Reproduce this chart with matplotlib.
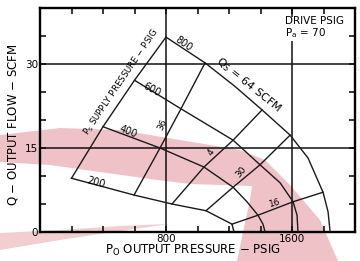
import numpy as np
import matplotlib as mpl
mpl.use('Agg')
from matplotlib import pyplot as plt

# supply pressure curves, (Po psig, Q scfm)
ps_levels = [800, 600, 400, 200]
ps_po = {
    800: [800, 1048, 1238, 1410, 1588, 1702, 1797, 1829, 1842],
    600: [600, 895, 1226, 1397, 1524, 1607, 1632, 1638],
    400: [400, 762, 1041, 1226, 1314, 1384, 1416, 1429],
    200: [200, 597, 838, 1054, 1219, 1232],
}
ps_q = {
    800: [34.8, 30.2, 26.0, 21.8, 17.3, 13.2, 7.1, 3.6, 0],
    600: [27.1, 22.0, 16.4, 12.0, 8.8, 5.4, 3.0, 0],
    400: [18.8, 15.0, 11.6, 8.0, 5.4, 3.0, 1.4, 0],
    200: [9.6, 6.6, 5.0, 3.8, 1.4, 0],
}
ps_label_po = [914, 711, 559, 356]
ps_label_q = [33.6, 25.4, 18.0, 8.8]
ps_label_rot = [-35, -28, -22, -15]

# cross lines (from Ps=800 down to Ps=200)
cross_po = [
    [800, 600, 400, 200],
    [1048, 895, 762, 597],
    [1410, 1226, 1041, 838],
    [1588, 1397, 1226, 1054],
    [1797, 1607, 1384, 1219],
]
cross_q = [
    [34.8, 27.1, 18.8, 9.6],
    [30.2, 22.0, 15.0, 6.6],
    [21.8, 16.4, 11.6, 5.0],
    [17.3, 12.0, 8.0, 3.8],
    [7.1, 5.4, 3.0, 1.4],
]
cross_labels = ["36", "4", "30", "16"]
cross_label_po = [775, 1086, 1276, 1492]
cross_label_q = [19.1, 14.3, 10.7, 5.2]
cross_label_rot = [65, 55, 50, 15]

x_ticks = list(range(0, 2001, 200))
x_ticklabels = {800: "800", 1600: "1600"}
y_ticks = list(range(0, 41, 5))
y_ticklabels = {0: "0", 15: "15", 30: "30"}

# pink watermark swoosh (figure pixels)
wm_band_x = [0, 60, 120, 180, 240, 265, 290, 320, 338, 237, 243, 250, 252, 190, 150, 100, 50, 0]
wm_band_y = [135, 128, 130, 140, 150, 160, 185, 220, 261, 261, 232, 200, 186, 184, 179, 172, 165, 162]
wm_tail_x = [0, 60, 120, 170, 120, 60, 0]
wm_tail_y = [233, 230, 226, 224, 231, 240, 250]

plt.rcParams['font.family'] = ['DejaVu Sans']
plt.rcParams['mathtext.fontset'] = 'dejavusans'

fig = plt.figure(figsize=(3.6, 2.61), dpi=100)

wm = fig.add_axes([0, 0, 1, 1], zorder=0)
wm.set_xlim(0, 360)
wm.set_ylim(261, 0)
wm.axis('off')
wm.fill(wm_band_x, wm_band_y, color='#efc2c8', lw=0)
wm.fill(wm_tail_x, wm_tail_y, color='#f2cdd2', lw=0)

ax = fig.add_axes([40/360, 29/261, 315/360, 224/261], zorder=1)
ax.patch.set_alpha(0)
ax.set_xlim(0, 2000)
ax.set_ylim(0, 40)

for s in ax.spines.values():
    s.set_linewidth(1.7)

ax.set_xticks(x_ticks)
ax.set_xticklabels([x_ticklabels.get(t, "") for t in x_ticks])
ax.set_yticks(y_ticks)
ax.set_yticklabels([y_ticklabels.get(t, "") for t in y_ticks])
ax.tick_params(direction='in', length=4, width=1.1, top=True, right=True,
               labelsize=7.5, pad=1.5)

for v in [800, 1600]:
    ax.axvline(v, color='#111111', lw=1.1, zorder=2)
for h in [15, 30]:
    ax.axhline(h, color='#111111', lw=1.1, zorder=2)

lc = '#1a1a1a'
for ps in ps_levels:
    ax.plot(ps_po[ps], ps_q[ps], color=lc, lw=1.0, zorder=3)
for po, q in zip(cross_po, cross_q):
    ax.plot(po, q, color=lc, lw=1.0, zorder=3)

for lab, x, y, r in zip(ps_levels, ps_label_po, ps_label_q, ps_label_rot):
    ax.text(x, y, str(lab), fontsize=7, rotation=r, ha='center', va='center',
            rotation_mode='anchor', zorder=4)
for lab, x, y, r in zip(cross_labels, cross_label_po, cross_label_q, cross_label_rot):
    ax.text(x, y, lab, fontsize=6.5, rotation=r, ha='center', va='center',
            rotation_mode='anchor', zorder=4)

ax.text(514, 26.8, r'P$_\mathrm{S}$ SUPPLY PRESSURE $-$ PSIG', fontsize=6.2,
        rotation=56, ha='center', va='center', rotation_mode='anchor')
ax.text(1321, 26.3, r'Q$_\mathrm{S}$ = 64 SCFM', fontsize=8,
        rotation=-39, ha='center', va='center', rotation_mode='anchor')

ax.text(0.778, 0.965, 'DRIVE PSIG\nP$_\\mathrm{a}$ = 70', transform=ax.transAxes,
        fontsize=7.5, ha='left', va='top', linespacing=1.05,
        bbox=dict(facecolor='white', edgecolor='none', pad=0.5), zorder=5)

ax.set_xlabel(r'P$_\mathrm{O}$ OUTPUT PRESSURE $-$ PSIG', fontsize=8.5)
ax.xaxis.set_label_coords(0.485, -0.05)
ax.set_ylabel(r'Q $-$ OUTPUT FLOW $-$ SCFM', fontsize=8.5)
ax.yaxis.set_label_coords(-0.065, 0.478)

fig.savefig('out.png', dpi=100)
